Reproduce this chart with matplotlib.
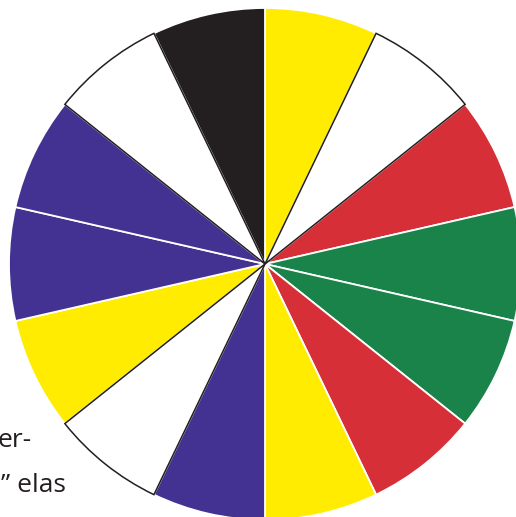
import matplotlib
matplotlib.use("Agg")
import matplotlib.pyplot as plt

# 14 equal wedges, clockwise from 12 o'clock
segments = [1] * 14
colors = ["yellow", "white", "red", "green", "green", "red", "yellow",
          "purple", "white", "yellow", "purple", "purple", "white", "black"]
palette = {"yellow": "#FFEC00", "white": "#FFFFFF", "red": "#D62F38",
           "green": "#1A834A", "purple": "#433292", "black": "#231F20"}
text_lines = ["er-", "\u201d elas"]

W, H = 516, 517
fig = plt.figure(figsize=(W / 100, H / 100), dpi=100)
ax = fig.add_axes([0, 0, 1, 1])
ax.set_xlim(0, W)
ax.set_ylim(0, H)
ax.axis("off")

# text sitting behind the wheel (cut off at the left edge)
ax.text(32, H - 447, text_lines[0], ha="right", va="baseline",
        fontsize=19, family="Open Sans", color="#231F20", zorder=0)
ax.text(66, H - 492, text_lines[1], ha="right", va="baseline",
        fontsize=19, family="Open Sans", color="#231F20", zorder=0)

wedges, _ = ax.pie(segments, colors=[palette[c] for c in colors],
                   startangle=90, counterclock=False,
                   center=(265, H - 264), radius=256, frame=True,
                   wedgeprops=dict(edgecolor="white", linewidth=1.3))
for w, c in zip(wedges, colors):
    w.set_zorder(2)
    if c == "white":
        w.set_edgecolor("#231F20")
        w.set_linewidth(1.1)
        w.set_zorder(3)

ax.set_xlim(0, W)
ax.set_ylim(0, H)
ax.set_aspect("auto")
ax.axis("off")
fig.savefig("out.png", dpi=100)
